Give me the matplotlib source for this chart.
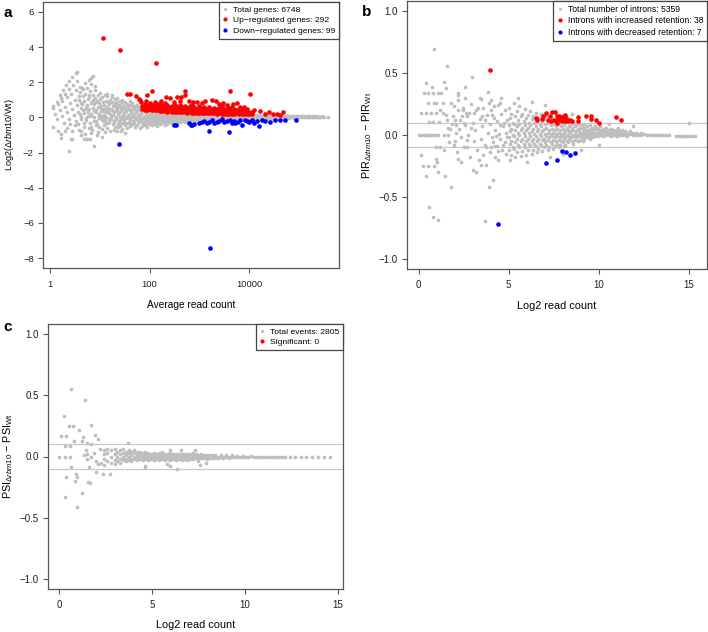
import matplotlib
matplotlib.use("Agg")
import matplotlib.pyplot as plt
from matplotlib.lines import Line2D
from matplotlib.ticker import NullLocator
import numpy as np

plt.rcParams['font.family'] = ['Liberation Sans', 'DejaVu Sans']
plt.rcParams['mathtext.fontset'] = 'custom'
plt.rcParams['mathtext.rm'] = 'Liberation Sans'
plt.rcParams['mathtext.it'] = 'Liberation Sans:italic'
plt.rcParams['mathtext.bf'] = 'Liberation Sans:bold'

GREY = '#bebebe'
RED = '#ff0000'
BLUE = '#0000ff'

# ---------------- panel a: log10(average read count), log2 fold change ----------------
a_grey_lowcount = [
    (0.20, 1.3), (0.26, 1.55), (0.32, 1.82), (0.39, 2.06), (0.45, 2.29), (0.52, 2.52), (0.55, 2.6),
    (0.14, 0.85), (0.22, 1.1), (0.30, 1.35), (0.38, 1.6), (0.46, 1.85), (0.54, 2.05),
    (0.07, 0.55), (0.16, 0.75), (0.25, 0.95), (0.34, 1.15), (0.43, 1.35), (0.52, 1.55), (0.61, 1.75),
    (0.70, 1.95), (0.78, 2.1), (0.83, 2.26), (0.86, 2.35),
    (0.10, 0.2), (0.20, 0.4), (0.30, 0.6), (0.40, 0.8), (0.50, 1.0), (0.58, 1.2),
    (0.15, -0.1), (0.25, 0.1), (0.35, 0.3), (0.45, 0.5), (0.55, 0.7),
    (0.28, -0.3), (0.38, -0.1), (0.48, 0.12), (0.56, 0.3), (0.07, 0.62),
    (0.07, -0.55), (0.16, -0.8), (0.22, -0.96), (0.22, -1.15), (0.39, -1.9), (0.42, -1.25),
    (0.45, -1.21), (0.35, -0.6), (0.45, -0.8), (0.50, -0.45), (0.59, -0.74), (0.62, -1.0),
    (0.69, -1.25), (0.72, -1.2), (0.75, -1.25), (0.80, -1.22), (0.82, -0.9), (0.89, -1.65),
    (0.30, -0.75), (0.40, -0.35), (0.53, -0.2), (1.29, -0.74), (1.42, -0.78), (1.50, -0.9),
    (1.05, -1.1), (0.95, -1.0), (0.82, 1.9), (0.66, 1.6), (0.75, 1.65), (0.90, 1.8),
    (1.00, 1.4), (1.10, 1.3), (1.15, 1.35), (1.25, 1.25), (1.35, 1.1), (1.45, 1.0), (1.60, 0.95),
]
a_grey_cloud = [
    (0.61, 1.45), (0.58, 1.0), (0.62, 0.55), (0.60, 0.2), (0.57, -0.35), (0.63, -0.8),
    (0.66, 1.2), (0.64, 0.75), (0.67, 0.4), (0.63, 0.05), (0.68, -0.55), (0.65, 1.65),
    (0.71, 1.35), (0.69, 0.95), (0.72, 0.6), (0.68, 0.25), (0.73, -0.15), (0.70, -0.95),
    (0.76, 1.05), (0.74, 0.7), (0.77, 0.3), (0.73, -0.05), (0.78, -0.6),
    (0.81, 1.5), (0.79, 1.15), (0.82, 0.8), (0.78, 0.45), (0.83, 0.1), (0.80, -0.3),
    (0.86, 1.25), (0.84, 0.9), (0.87, 0.55), (0.83, 0.2), (0.88, -0.2), (0.85, -0.7),
    (0.91, 1.1), (0.89, 0.75), (0.92, 0.4), (0.88, 0.05), (0.93, -0.45), (0.90, 1.55),
    (0.96, 1.3), (0.94, 0.95), (0.97, 0.6), (0.93, 0.3), (0.98, -0.05), (0.95, -0.4), (0.96, -0.85),
    (1.01, 1.05), (0.98, 0.8), (1.02, 0.5), (0.99, 0.2), (1.015, -0.1), (0.985, -0.55),
    (1.04, 1.15), (1.07, 0.9), (1.03, 0.65), (1.06, 0.35), (1.035, 0.1), (1.065, -0.2), (1.05, -0.65),
    (1.12, 0.95), (1.09, 0.7), (1.115, 0.45), (1.08, 0.15), (1.11, -0.15), (1.085, -0.45), (1.10, -0.85),
    (1.14, 1.2), (1.165, 0.85), (1.135, 0.6), (1.16, 0.3), (1.13, 0.05), (1.17, -0.3), (1.15, -0.6),
    (1.21, 1.0), (1.185, 0.75), (1.22, 0.5), (1.19, 0.25), (1.215, 0.0), (1.18, -0.25), (1.20, -0.75),
    (1.24, 0.9), (1.265, 0.65), (1.235, 0.4), (1.26, 0.15), (1.23, -0.1), (1.27, -0.4), (1.25, 1.15),
    (1.31, 1.05), (1.285, 0.8), (1.32, 0.55), (1.29, 0.3), (1.315, 0.05), (1.28, -0.2), (1.30, -0.55),
    (1.34, 0.85), (1.365, 0.6), (1.335, 0.4), (1.36, 0.2), (1.33, -0.05), (1.37, -0.35), (1.35, -0.8),
    (1.41, 0.95), (1.385, 0.7), (1.42, 0.45), (1.39, 0.25), (1.415, 0.05), (1.38, -0.2), (1.40, -0.5),
    (1.44, 0.8), (1.465, 0.55), (1.435, 0.35), (1.46, 0.15), (1.43, -0.1), (1.47, -0.3), (1.45, -0.65),
    (1.51, 0.9), (1.485, 0.65), (1.52, 0.45), (1.49, 0.25), (1.515, 0.05), (1.48, -0.15), (1.50, -0.45),
    (1.54, 0.75), (1.565, 0.55), (1.535, 0.35), (1.56, 0.15), (1.53, -0.05), (1.57, -0.3), (1.55, -0.6),
    (1.61, 0.7), (1.585, 0.5), (1.62, 0.3), (1.59, 0.12), (1.615, -0.08), (1.58, -0.25), (1.60, -0.5),
    (1.64, 0.8), (1.665, 0.55), (1.635, 0.38), (1.66, 0.2), (1.63, 0.0), (1.67, -0.2), (1.65, -0.4),
    (1.71, 0.65), (1.685, 0.45), (1.72, 0.28), (1.69, 0.1), (1.715, -0.1), (1.68, -0.3), (1.70, -0.55),
    (1.74, 0.7), (1.765, 0.5), (1.735, 0.33), (1.76, 0.15), (1.73, -0.03), (1.77, -0.22), (1.75, -0.45),
    (1.81, 0.6), (1.785, 0.42), (1.82, 0.25), (1.79, 0.08), (1.815, -0.1), (1.78, -0.28), (1.80, -0.6),
    (1.84, 0.55), (1.865, 0.38), (1.835, 0.22), (1.86, 0.05), (1.83, -0.12), (1.87, -0.3), (1.85, -0.5),
    (1.91, 0.5), (1.885, 0.35), (1.92, 0.2), (1.89, 0.05), (1.915, -0.08), (1.88, -0.25), (1.90, -0.42),
    (1.94, 0.45), (1.965, 0.3), (1.935, 0.15), (1.96, 0.0), (1.93, -0.15), (1.97, -0.3), (1.95, -0.55),
    (1.025, 0.65), (1.03, 0.35), (1.075, 0.5), (1.07, 0.0), (1.125, 0.3), (1.125, -0.3), (1.175, 0.45),
    (1.175, -0.1), (1.225, 0.85), (1.22, 0.12), (1.275, 0.28), (1.275, -0.25), (1.325, 0.68),
    (1.32, -0.08), (1.375, 0.3), (1.375, -0.55), (1.425, 0.6), (1.42, -0.3), (1.475, 0.05),
    (1.475, 0.45), (1.525, 0.35), (1.525, -0.3), (1.575, 0.05), (1.575, 0.62), (1.625, 0.4),
    (1.62, -0.35), (1.675, 0.1), (1.675, 0.65), (1.725, 0.4), (1.725, -0.42), (1.775, 0.05),
    (1.775, 0.6), (1.825, 0.32), (1.825, -0.2), (1.875, 0.45), (1.875, -0.05), (1.925, 0.28),
    (1.925, -0.35), (1.975, 0.35), (1.975, -0.2), (0.625, 0.8), (0.675, -0.3), (0.725, 0.45),
    (0.775, 1.3), (0.825, -0.55), (0.875, 0.35), (0.925, 0.9), (0.975, 0.1), (0.63, -0.1),
    (0.77, 0.1), (0.87, 1.0), (0.92, -0.2),
]
a_grey_band = [
    (2.00, [0.42, 0.28, 0.14, 0.02, -0.1, -0.22, -0.4]),
    (2.05, [0.4, 0.26, 0.12, 0.0, -0.12, -0.26, -0.45]),
    (2.10, [0.38, 0.25, 0.12, 0.0, -0.1, -0.22, -0.38]),
    (2.15, [0.36, 0.24, 0.12, 0.02, -0.08, -0.2, -0.35, -0.5]),
    (2.20, [0.35, 0.22, 0.1, 0.0, -0.1, -0.22, -0.4]),
    (2.25, [0.33, 0.21, 0.1, 0.0, -0.1, -0.2, -0.32]),
    (2.30, [0.32, 0.2, 0.1, 0.0, -0.08, -0.18, -0.3, -0.45]),
    (2.35, [0.3, 0.2, 0.1, 0.0, -0.1, -0.2, -0.35]),
    (2.40, [0.3, 0.19, 0.09, 0.0, -0.08, -0.17, -0.28]),
    (2.45, [0.28, 0.18, 0.08, -0.01, -0.1, -0.2, -0.33]),
    (2.50, [0.27, 0.17, 0.08, 0.0, -0.08, -0.16, -0.26]),
    (2.55, [0.26, 0.16, 0.07, -0.01, -0.09, -0.18, -0.3]),
    (2.60, [0.25, 0.16, 0.07, 0.0, -0.08, -0.16, -0.25]),
    (2.65, [0.25, 0.15, 0.06, -0.02, -0.1, -0.19]),
    (2.70, [0.24, 0.15, 0.07, 0.0, -0.07, -0.15, -0.24]),
    (2.75, [0.23, 0.14, 0.06, -0.01, -0.08, -0.16]),
    (2.80, [0.23, 0.14, 0.06, 0.0, -0.07, -0.15, -0.23]),
    (2.85, [0.22, 0.13, 0.05, -0.01, -0.08, -0.16]),
    (2.90, [0.22, 0.13, 0.06, 0.0, -0.07, -0.14, -0.22]),
    (2.95, [0.21, 0.12, 0.05, -0.01, -0.08, -0.15]),
    (3.00, [0.2, 0.12, 0.05, 0.0, -0.06, -0.13, -0.2]),
    (3.05, [0.19, 0.11, 0.04, -0.02, -0.08, -0.14]),
    (3.10, [0.19, 0.11, 0.05, 0.0, -0.06, -0.13, -0.19]),
    (3.15, [0.18, 0.1, 0.04, -0.02, -0.08, -0.14]),
    (3.20, [0.18, 0.1, 0.04, 0.0, -0.06, -0.12, -0.18]),
    (3.25, [0.17, 0.1, 0.04, -0.02, -0.08, -0.13]),
    (3.30, [0.17, 0.1, 0.04, 0.0, -0.05, -0.11, -0.17]),
    (3.35, [0.16, 0.09, 0.03, -0.02, -0.07, -0.12]),
    (3.40, [0.16, 0.09, 0.04, 0.0, -0.05, -0.1, -0.16]),
    (3.45, [0.15, 0.09, 0.03, -0.02, -0.07, -0.12]),
    (3.50, [0.15, 0.09, 0.04, 0.0, -0.05, -0.1, -0.15]),
    (3.55, [0.15, 0.08, 0.03, -0.02, -0.06, -0.11]),
    (3.60, [0.14, 0.08, 0.03, 0.0, -0.05, -0.1, -0.14]),
    (3.65, [0.14, 0.08, 0.03, -0.01, -0.06, -0.1]),
    (3.70, [0.14, 0.08, 0.04, 0.0, -0.04, -0.09, -0.13]),
    (3.75, [0.13, 0.07, 0.03, -0.01, -0.05, -0.1]),
    (3.80, [0.13, 0.08, 0.03, 0.0, -0.04, -0.09, -0.13]),
    (3.85, [0.13, 0.07, 0.03, -0.01, -0.05, -0.09]),
    (3.90, [0.12, 0.07, 0.03, 0.0, -0.04, -0.08, -0.12]),
    (3.95, [0.12, 0.07, 0.03, -0.01, -0.05, -0.09]),
    (4.00, [0.12, 0.07, 0.03, 0.0, -0.04, -0.08, -0.11]),
    (4.05, [0.12, 0.07, 0.03, -0.01, -0.05]),
    (4.10, [0.11, 0.06, 0.02, -0.02, -0.06, -0.1]),
    (4.15, [0.11, 0.06, 0.03, -0.01, -0.05]),
    (4.20, [0.11, 0.06, 0.02, -0.02, -0.06, -0.09]),
    (4.25, [0.1, 0.06, 0.02, -0.01, -0.05]),
    (4.30, [0.1, 0.06, 0.03, 0.0, -0.04, -0.08]),
    (4.35, [0.1, 0.06, 0.02, -0.02, -0.05]),
    (4.40, [0.1, 0.06, 0.03, 0.0, -0.03, -0.07]),
    (4.45, [0.1, 0.05, 0.02, -0.01, -0.05]),
    (4.50, [0.09, 0.05, 0.02, -0.02, -0.06]),
    (4.55, [0.1, 0.06, 0.03, 0.0, -0.03]),
    (4.60, [0.09, 0.05, 0.02, -0.01, -0.05]),
    (4.65, [0.1, 0.06, 0.03, 0.0, -0.03]),
    (4.70, [0.09, 0.05, 0.02, -0.02]),
    (4.75, [0.1, 0.06, 0.03, 0.0, -0.03]),
    (4.80, [0.09, 0.05, 0.02, -0.01]),
    (4.85, [0.1, 0.06, 0.03, 0.0]),
    (4.90, [0.08, 0.05, 0.02, -0.01]),
    (4.95, [0.09, 0.06, 0.03, 0.0]),
    (5.00, [0.08, 0.05, 0.02]),
    (5.05, [0.09, 0.06, 0.03, 0.0]),
    (5.10, [0.08, 0.05, 0.02]),
    (5.15, [0.07, 0.04, 0.02]),
    (5.20, [0.08, 0.05, 0.02]),
    (5.25, [0.06, 0.03]),
    (5.30, [0.07, 0.04, 0.02]),
    (5.35, [0.06, 0.03]),
    (5.40, [0.05, 0.02]),
    (5.45, [0.06, 0.03]),
    (5.50, [0.04]),
    (5.57, [0.05]),
]
a_red_scattered = [
    (1.07, 4.53), (1.41, 3.83), (2.13, 3.12),
    (1.55, 1.35), (1.60, 1.35), (1.73, 1.19), (1.78, 1.05), (1.80, 0.98), (1.83, 0.85),
    (1.93, 0.93), (1.94, 1.25), (2.05, 1.5), (2.10, 0.85), (2.18, 0.75), (2.22, 0.93),
    (2.30, 0.8), (2.33, 1.15), (2.41, 1.1), (2.48, 0.85), (2.55, 1.16), (2.60, 0.95),
    (2.70, 1.5), (2.62, 1.16), (2.70, 1.25), (2.78, 0.95), (2.88, 0.85), (2.95, 0.9),
    (3.05, 0.8), (3.12, 0.95), (3.25, 1.0), (3.33, 0.95), (3.40, 0.75), (3.48, 0.8),
    (3.55, 0.7), (3.62, 1.5), (3.68, 0.75), (3.75, 0.8), (3.82, 0.6), (3.90, 0.6),
    (4.02, 1.35), (4.10, 0.4), (4.22, 0.36), (4.32, 0.2), (4.39, 0.28), (4.47, 0.2),
    (4.55, 0.2), (4.62, 0.15), (4.67, 0.3),
]
a_red_core = [
    (1.85, [0.65, 0.5]), (1.90, [0.75, 0.55, 0.42]), (1.95, [0.7, 0.5, 0.4]),
    (2.00, [0.8, 0.6, 0.45]), (2.05, [0.7, 0.55, 0.42]), (2.10, [0.65, 0.5, 0.4]),
    (2.15, [0.75, 0.58, 0.44]), (2.20, [0.62, 0.48, 0.38]), (2.25, [0.7, 0.55, 0.42, 0.36]),
    (2.30, [0.6, 0.46, 0.36]), (2.35, [0.68, 0.52, 0.4, 0.33]), (2.40, [0.58, 0.45, 0.35]),
    (2.45, [0.65, 0.5, 0.4, 0.32]), (2.50, [0.72, 0.55, 0.42, 0.32]), (2.55, [0.6, 0.46, 0.36, 0.3]),
    (2.60, [0.7, 0.52, 0.4, 0.31]), (2.65, [0.58, 0.45, 0.34, 0.28]), (2.70, [0.65, 0.5, 0.38, 0.29]),
    (2.75, [0.55, 0.42, 0.32, 0.27]), (2.80, [0.62, 0.48, 0.36, 0.28]),
    (2.85, [0.7, 0.52, 0.4, 0.3, 0.26]), (2.90, [0.58, 0.44, 0.34, 0.27]),
    (2.95, [0.5, 0.4, 0.3, 0.25]), (3.00, [0.62, 0.46, 0.35, 0.27]), (3.05, [0.55, 0.42, 0.32, 0.25]),
    (3.10, [0.6, 0.45, 0.34, 0.26]), (3.15, [0.5, 0.38, 0.3, 0.24]), (3.20, [0.58, 0.44, 0.33, 0.25]),
    (3.25, [0.48, 0.36, 0.28, 0.23]), (3.30, [0.55, 0.42, 0.31, 0.24]), (3.35, [0.46, 0.35, 0.27, 0.22]),
    (3.40, [0.52, 0.4, 0.3, 0.23]), (3.45, [0.62, 0.44, 0.33, 0.25, 0.21]), (3.50, [0.5, 0.38, 0.28, 0.22]),
    (3.55, [0.45, 0.34, 0.26, 0.2]), (3.60, [0.55, 0.4, 0.3, 0.22]), (3.65, [0.6, 0.42, 0.32, 0.24, 0.2]),
    (3.70, [0.48, 0.35, 0.26, 0.2]), (3.75, [0.4, 0.3, 0.23]), (3.80, [0.5, 0.36, 0.27, 0.2]),
    (3.85, [0.42, 0.3, 0.22]), (3.90, [0.35, 0.26, 0.2]), (3.95, [0.45, 0.3, 0.22]),
    (4.00, [0.32, 0.24, 0.18]), (4.05, [0.28, 0.2]),
]
a_blue = [
    (1.39, -1.53), (3.22, -7.4),
    (2.49, -0.45), (2.53, -0.42), (2.79, -0.3), (2.82, -0.42), (2.85, -0.45), (2.90, -0.38),
    (3.00, -0.3), (3.05, -0.28), (3.09, -0.23), (3.15, -0.3), (3.19, -0.75), (3.20, -0.26),
    (3.25, -0.17), (3.30, -0.3), (3.35, -0.26), (3.40, -0.2), (3.45, -0.11), (3.50, -0.27),
    (3.55, -0.23), (3.59, -0.83), (3.62, -0.13), (3.65, -0.3), (3.70, -0.2), (3.72, -0.3),
    (3.78, -0.25), (3.82, -0.17), (3.85, -0.42), (3.92, -0.13), (3.95, -0.22), (4.00, -0.28),
    (4.05, -0.13), (4.10, -0.3), (4.15, -0.23), (4.19, -0.49), (4.25, -0.17), (4.32, -0.2),
    (4.42, -0.26), (4.52, -0.13), (4.62, -0.17), (4.72, -0.13), (4.94, -0.17),
]

# ---------------- panel b: log2 read count, delta PIR ----------------
b_grey_scattered = [
    (0.83, 0.69), (1.57, 0.556), (2.95, 0.465), (0.41, 0.42), (1.39, 0.43), (0.72, 0.39),
    (0.31, 0.335), (0.54, 0.335), (0.78, 0.335), (1.09, 0.335), (1.24, 0.335), (1.52, 0.376),
    (2.17, 0.34), (2.20, 0.32), (2.58, 0.385), (3.46, 0.288), (0.50, 0.255), (0.87, 0.255),
    (0.96, 0.255), (1.33, 0.255), (1.80, 0.26), (1.98, 0.23), (2.17, 0.2), (2.44, 0.205),
    (2.63, 0.175), (3.93, 0.255), (4.20, 0.233), (4.52, 0.255), (0.13, 0.175), (0.41, 0.175),
    (0.69, 0.175), (0.96, 0.175), (1.20, 0.2), (1.35, 0.175), (1.50, 0.16), (0.59, 0.107),
    (0.78, 0.107), (1.15, 0.107), (1.60, 0.12), (1.85, 0.09), (2.10, 0.08), (1.61, 0.053),
    (1.75, 0.045), (1.90, 0.15), (2.30, 0.12), (2.50, 0.1), (2.70, 0.15), (2.90, 0.06),
    (3.10, 0.18), (3.30, 0.22), (3.50, 0.15), (3.70, 0.12),
    (0.04, 0.0), (0.15, 0.0), (0.31, 0.0), (0.40, 0.0), (0.50, 0.0), (0.60, 0.0), (0.69, 0.0),
    (0.80, 0.0), (0.96, 0.0), (1.10, 0.0), (1.43, 0.0), (1.61, 0.0),
    (0.96, -0.094), (1.20, -0.1), (1.40, -0.12), (0.13, -0.16), (0.96, -0.19), (1.00, -0.217),
    (0.22, -0.25), (0.54, -0.25), (0.83, -0.25), (0.41, -0.33), (1.06, -0.3), (1.46, -0.33),
    (1.80, -0.42), (2.17, -0.19), (2.35, -0.22), (3.20, -0.3), (3.46, -0.245), (3.74, -0.24),
    (4.11, -0.36), (3.93, -0.42), (0.59, -0.58), (0.78, -0.664), (1.09, -0.685), (3.69, -0.69),
    (4.02, -0.1), (4.24, -0.09), (4.39, -0.13), (1.70, -0.06), (2.00, -0.05), (2.50, -0.1),
    (2.70, -0.04), (5.50, 0.3), (6.00, -0.22), (6.30, 0.27), (7.00, 0.24), (7.30, -0.18),
    (8.00, -0.15), (8.50, 0.17), (9.00, -0.12), (9.60, 0.12), (10.00, -0.08), (10.60, 0.086),
    (11.10, 0.06), (11.90, 0.075), (15.00, 0.094),
    (2.0, 0.12), (2.06, 0.02), (1.95, -0.08), (2.2, 0.28), (2.25, 0.05), (2.14, -0.14),
    (2.4, 0.15), (2.33, -0.02), (2.47, 0.22), (2.6, 0.08), (2.66, -0.1), (2.55, 0.3),
    (2.8, 0.18), (2.74, 0.0), (2.86, -0.18), (3.0, 0.1), (3.06, -0.05), (2.93, 0.25), (3.03, -0.28),
    (3.2, 0.2), (3.14, 0.04), (3.26, -0.12), (3.4, 0.13), (3.46, -0.03), (3.34, -0.2), (3.43, 0.3),
    (3.6, 0.22), (3.54, 0.07), (3.66, -0.08), (3.57, -0.16), (3.8, 0.16), (3.86, 0.02),
    (3.74, -0.1), (3.83, 0.35), (4.0, 0.2), (3.94, 0.09), (4.06, -0.02), (3.97, -0.14),
    (4.03, 0.28), (4.2, 0.14), (4.26, 0.04), (4.14, -0.06), (4.23, -0.18), (4.4, 0.24),
    (4.34, 0.11), (4.46, 0.01), (4.37, -0.09), (4.43, -0.2), (4.6, 0.17), (4.66, 0.07),
    (4.54, -0.03), (4.63, -0.12), (4.57, 0.3), (4.8, 0.2), (4.74, 0.1), (4.86, 0.02),
    (4.77, -0.06), (4.83, -0.15), (4.1, 0.16), (4.3, -0.01), (4.5, 0.08), (4.7, -0.08),
    (4.9, 0.12), (4.9, -0.02),
]
b_grey_band = [
    (5.0, [0.22, 0.08, -0.02, -0.12]), (5.075, [0.14, 0.03, -0.07, -0.2]),
    (5.15, [0.17, 0.05, -0.05, -0.16]), (5.225, [0.1, 0.0, -0.1]),
    (5.3, [0.26, 0.09, -0.01, -0.11]), (5.375, [0.15, 0.04, -0.06, -0.18]),
    (5.45, [0.19, 0.07, -0.03, -0.14]), (5.525, [0.12, 0.02, -0.08]),
    (5.6, [0.23, 0.09, 0.0, -0.1]), (5.675, [0.15, 0.04, -0.05, -0.17]),
    (5.75, [0.17, 0.06, -0.03, -0.13]), (5.825, [0.11, 0.02, -0.07]),
    (5.9, [0.21, 0.08, -0.01, -0.1]), (5.975, [0.14, 0.04, -0.05, -0.16]),
    (6.05, [0.16, 0.06, -0.03, -0.12]), (6.125, [0.1, 0.02, -0.07]),
    (6.2, [0.19, 0.08, -0.01, -0.09]), (6.275, [0.13, 0.03, -0.05, -0.15]),
    (6.35, [0.15, 0.05, -0.03, -0.12]), (6.425, [0.1, 0.01, -0.07]),
    (6.5, [0.18, 0.07, -0.01, -0.09]), (6.575, [0.12, 0.03, -0.05, -0.14]),
    (6.65, [0.14, 0.05, -0.03, -0.11]), (6.725, [0.09, 0.01, -0.07]),
    (6.8, [0.17, 0.07, -0.01, -0.08]), (6.875, [0.11, 0.03, -0.04, -0.13]),
    (6.95, [0.13, 0.05, -0.03, -0.1]), (7.025, [0.09, 0.01, -0.06]),
    (7.1, [0.15, 0.06, -0.01, -0.08]), (7.175, [0.1, 0.02, -0.04, -0.12]),
    (7.25, [0.12, 0.04, -0.02, -0.1]), (7.325, [0.08, 0.01, -0.06]),
    (7.4, [0.14, 0.05, -0.01, -0.07]), (7.475, [0.09, 0.02, -0.04, -0.11]),
    (7.55, [0.11, 0.04, -0.02, -0.09]), (7.625, [0.07, 0.01, -0.05]),
    (7.7, [0.13, 0.05, -0.01, -0.07]), (7.775, [0.09, 0.02, -0.04, -0.1]),
    (7.85, [0.1, 0.04, -0.02, -0.08]), (7.925, [0.07, 0.01, -0.05]),
    (8.0, [0.12, 0.05, -0.01, -0.06]), (8.075, [0.08, 0.02, -0.03, -0.09]),
    (8.15, [0.1, 0.03, -0.02, -0.08]), (8.225, [0.06, 0.0, -0.05]),
    (8.3, [0.11, 0.04, -0.01, -0.06]), (8.375, [0.07, 0.02, -0.03]),
    (8.45, [0.09, 0.03, -0.02]), (8.525, [0.06, 0.0, -0.05]),
    (8.6, [0.1, 0.04, -0.01, -0.07]), (8.675, [0.07, 0.01, -0.04]),
    (8.75, [0.08, 0.03, -0.02]), (8.825, [0.05, 0.0, -0.05]),
    (8.9, [0.09, 0.03, -0.01]), (8.975, [0.06, 0.01, -0.04]),
    (9.05, [0.08, 0.02, -0.02]), (9.125, [0.05, 0.0, -0.05]),
    (9.2, [0.09, 0.06, 0.03, 0.01, -0.01, -0.03]),
    (9.35, [0.07, 0.04, 0.02, 0.0, -0.02]),
    (9.5, [0.08, 0.05, 0.03, 0.01, -0.01, -0.03]),
    (9.65, [0.06, 0.04, 0.02, 0.0, -0.02]),
    (9.8, [0.07, 0.05, 0.02, 0.0, -0.01]),
    (9.95, [0.06, 0.03, 0.01, -0.01]),
    (10.1, [0.07, 0.04, 0.02, 0.0]),
    (10.25, [0.05, 0.03, 0.01, -0.01]),
    (10.4, [0.06, 0.03, 0.01, 0.0]),
    (10.55, [0.04, 0.02, 0.0]),
    (10.7, [0.05, 0.03, 0.01, -0.01]),
    (10.85, [0.04, 0.02, 0.0]),
    (11.0, [0.04, 0.02, 0.01, -0.01]),
    (11.15, [0.03, 0.01, 0.0]),
    (11.3, [0.04, 0.02, 0.0]),
    (11.45, [0.03, 0.01, 0.0]),
    (11.6, [0.02, 0.01, -0.01]),
    (11.75, [0.03, 0.01]),
    (11.9, [0.02, 0.0]),
    (12.05, [0.02, 0.0]),
    (12.2, [0.01, 0.0]),
    (12.35, [0.02, 0.0]),
    (12.5, [0.01]),
    (12.7, [0.0]), (12.85, [0.0]), (13.0, [0.0]), (13.1, [0.0]), (13.2, [0.0]),
    (13.35, [0.0]), (13.5, [0.0]), (13.6, [0.0]), (13.75, [0.0]), (13.9, [0.0]),
    (14.3, [-0.005]), (14.4, [-0.005]), (14.5, [-0.005]), (14.6, [-0.005]),
    (14.75, [-0.005]), (14.9, [-0.005]), (15.1, [-0.005]), (15.2, [-0.005]), (15.35, [-0.005]),
]
b_red = [
    (3.94, 0.52), (6.54, 0.14), (6.60, 0.12), (6.87, 0.13), (6.90, 0.155), (7.09, 0.18),
    (7.20, 0.12), (7.31, 0.15), (7.43, 0.185), (7.56, 0.185), (7.50, 0.12), (7.62, 0.11),
    (7.66, 0.15), (7.72, 0.13), (7.78, 0.155), (7.83, 0.12), (7.90, 0.145), (7.95, 0.11),
    (8.02, 0.13), (8.08, 0.15), (8.12, 0.115), (8.20, 0.14), (8.26, 0.12), (8.30, 0.11),
    (8.42, 0.12), (8.54, 0.115), (8.87, 0.145), (8.87, 0.113), (9.31, 0.155), (9.60, 0.15),
    (9.55, 0.125), (9.83, 0.124), (10.00, 0.1), (10.98, 0.147), (11.26, 0.12), (7.36, 0.11),
    (8.15, 0.165), (7.70, 0.1),
]
b_blue = [(7.96, -0.13), (8.20, -0.14), (8.42, -0.165), (8.70, -0.145),
          (7.69, -0.2), (7.09, -0.225), (4.39, -0.72)]

# ---------------- panel c: log2 read count, delta PSI ----------------
c_grey_scattered = [
    (0.63, 0.554), (1.38, 0.464), (0.25, 0.334), (0.52, 0.247), (0.75, 0.247), (1.06, 0.22),
    (1.74, 0.255), (0.13, 0.165), (0.40, 0.165), (1.29, 0.16), (1.26, 0.125), (1.92, 0.179),
    (2.10, 0.139), (1.53, 0.11), (1.71, 0.098), (0.81, 0.13), (0.34, 0.084), (0.58, 0.084),
    (0.0, 0.0), (0.30, 0.0), (0.59, 0.0), (1.60, -0.084), (1.97, -0.128), (2.37, -0.139),
    (2.73, -0.139), (0.66, -0.084), (0.39, -0.166), (0.93, -0.14), (0.99, -0.17), (0.88, -0.2),
    (1.56, -0.21), (1.65, -0.22), (1.26, -0.295), (0.34, -0.33), (0.99, -0.41), (1.45, 0.05),
    (1.50, 0.02), (1.52, -0.02), (1.70, 0.0), (1.90, 0.03), (2.00, -0.04), (2.20, 0.06),
    (2.25, -0.05), (2.40, 0.02), (2.10, -0.06), (1.35, 0.01),
    (3.74, 0.11), (4.63, -0.078), (5.80, -0.065), (6.00, -0.078), (6.38, -0.1), (7.60, -0.07),
    (7.90, -0.05), (5.98, 0.052), (6.56, 0.052), (7.33, 0.052), (4.62, -0.084),
]
c_grey_band = [
    (2.4, [0.05, -0.02, -0.07]), (2.6, [0.03, -0.04, 0.06]), (2.8, [0.05, 0.0, -0.05]),
    (3.0, [0.06, 0.02, -0.03, -0.06]), (3.15, [0.04, 0.0, -0.04]), (3.3, [0.05, 0.02, -0.02, -0.05]),
    (3.45, [0.03, 0.0, -0.03, 0.06]), (3.6, [0.04, 0.01, -0.02, -0.04]), (3.75, [0.03, 0.0, -0.03, 0.05]),
    (3.9, [0.04, 0.01, -0.02, -0.04]), (4.05, [0.03, 0.0, -0.02, 0.05]), (4.2, [0.04, 0.01, -0.01, -0.03]),
    (4.35, [0.02, 0.0, -0.02, 0.04]), (4.5, [0.03, 0.01, -0.01, -0.03]), (4.65, [0.02, 0.0, -0.02, 0.04]),
    (4.8, [0.03, 0.01, -0.01, -0.03]), (4.95, [0.02, 0.0, -0.02]), (5.1, [0.03, 0.01, -0.01, -0.03]),
    (5.25, [0.02, 0.0, -0.02]), (5.4, [0.03, 0.01, -0.01, -0.03]), (5.55, [0.02, 0.0, -0.02, 0.04]),
    (5.7, [0.02, 0.01, -0.01, -0.03]), (5.85, [0.02, 0.0, -0.02]), (6.0, [0.03, 0.01, -0.01, -0.03]),
    (6.15, [0.02, 0.0, -0.02]), (6.3, [0.02, 0.01, -0.01, -0.03]), (6.45, [0.02, 0.0, -0.02]),
    (6.6, [0.02, 0.0, -0.01, -0.03]), (6.75, [0.02, 0.0, -0.02]), (6.9, [0.02, 0.01, -0.01, -0.03]),
    (7.05, [0.02, 0.0, -0.02]), (7.2, [0.01, 0.0, -0.02, 0.03]), (7.35, [0.02, 0.0, -0.01]),
    (7.5, [0.01, 0.0, -0.02, -0.04]), (7.65, [0.02, 0.0, -0.01]), (7.8, [0.01, 0.0, -0.01]),
    (7.95, [0.01, 0.0, -0.02]), (8.1, [0.01, 0.0, -0.01]), (8.25, [0.01, -0.01]),
    (8.4, [0.01, 0.0, -0.01]), (8.55, [0.0, -0.01]), (8.7, [0.01, 0.0]), (8.85, [0.0, -0.01]),
    (9.0, [0.01, 0.0]), (9.15, [0.0, -0.01]), (9.3, [0.01, 0.0]), (9.45, [0.0]),
    (9.6, [0.005, -0.005]), (9.75, [0.0]), (9.9, [0.005, -0.005]), (10.05, [0.0]), (10.2, [0.0]),
    (10.35, [0.005]), (10.5, [0.0]), (10.65, [0.0]), (10.8, [0.0]), (10.95, [0.0]), (11.1, [0.0]),
    (11.25, [0.0]), (11.4, [0.0]), (11.55, [0.0]), (11.7, [0.0]), (11.85, [0.0]), (12.0, [0.0]),
    (12.15, [0.0]), (12.45, [0.0]), (12.72, [0.0]), (13.03, [0.0]), (13.32, [0.0]),
    (13.62, [0.0]), (13.94, [0.0]), (14.25, [0.0]), (14.61, [0.0]),
]

legend_a = ['Total genes: 6748', 'Up\u2212regulated genes: 292', 'Down\u2212regulated genes: 99']
legend_b = ['Total number of introns: 5359', 'Introns with increased retention: 38',
            'Introns with decreased retention: 7']
legend_c = ['Total events: 2805', 'Significant: 0']


def pairs(points):
    arr = np.array(points, dtype=float)
    return arr[:, 0], arr[:, 1]


def columns(cols):
    xs, ys = [], []
    for x, vals in cols:
        for v in vals:
            xs.append(x)
            ys.append(v)
    return np.array(xs), np.array(ys)


def style_axes(ax, labelsize, xpad):
    for s in ax.spines.values():
        s.set_color('#555555')
        s.set_linewidth(0.9)
    ax.tick_params(direction='out', length=3.6, width=0.8, color='#555555',
                   labelsize=labelsize, labelcolor='#222222', pad=3)
    ax.tick_params(axis='x', pad=xpad)


def add_legend(ax, labels, colors, fontsize):
    handles = []
    for i, col in enumerate(colors):
        ms = 2.2 if i == 0 else 3.0
        handles.append(Line2D([], [], ls='none', marker='o', ms=ms, color=col, mec='none'))
    leg = ax.legend(handles, labels, loc='upper right', borderaxespad=0, fontsize=fontsize,
                    frameon=True, fancybox=False, edgecolor='#444444', framealpha=1,
                    handlelength=0.6, handletextpad=0.6, borderpad=0.45, labelspacing=0.3)
    leg.get_frame().set_linewidth(0.9)


GREY_S = 7.0
COL_S = 11.0

fig = plt.figure(figsize=(7.08, 6.32), dpi=100)

# ---- panel a ----
ax = fig.add_axes([43 / 708, 1 - 268 / 632, 296 / 708, 266 / 632])
lx1, y1 = pairs(a_grey_lowcount + a_grey_cloud)
lx2, y2 = columns(a_grey_band)
ax.scatter(10 ** np.concatenate([lx1, lx2]), np.concatenate([y1, y2]), s=GREY_S, c=GREY, linewidths=0)
lx3, y3 = pairs(a_red_scattered)
lx4, y4 = columns(a_red_core)
ax.scatter(10 ** np.concatenate([lx3, lx4]), np.concatenate([y3, y4]), s=COL_S, c=RED, linewidths=0)
lx5, y5 = pairs(a_blue)
ax.scatter(10 ** lx5, y5, s=COL_S, c=BLUE, linewidths=0)
ax.set_xscale('log')
ax.set_xlim(10 ** -0.14, 10 ** 5.8)
ax.set_ylim(-8.56, 6.56)
ax.set_xticks([1, 100, 10000])
ax.set_xticklabels(['1', '100', '10000'])
ax.xaxis.set_minor_locator(NullLocator())
ax.set_yticks([-8, -6, -4, -2, 0, 2, 4, 6])
style_axes(ax, 6.8, 5)
ax.set_xlabel('Average read count', fontsize=7.3)
ax.xaxis.set_label_coords(0.5, -37 / 266)
ax.xaxis.label.set_va('center')
ax.set_ylabel(r'Log2($\Delta\mathit{rbm10}$/Wt)', fontsize=6.5)
ax.yaxis.set_label_coords(-33 / 296, 0.5)
ax.yaxis.label.set_va('center')
add_legend(ax, legend_a, [GREY, RED, BLUE], 6.1)

# ---- panel b ----
ax = fig.add_axes([407 / 708, 1 - 269 / 632, 300 / 708, 268 / 632])
ax.axhline(0.1, color='#c8c8c8', lw=0.9, zorder=0)
ax.axhline(-0.1, color='#c8c8c8', lw=0.9, zorder=0)
x1, y1 = pairs(b_grey_scattered)
x2, y2 = columns(b_grey_band)
ax.scatter(np.concatenate([x1, x2]), np.concatenate([y1, y2]), s=GREY_S, c=GREY, linewidths=0)
x3, y3 = pairs(b_red)
ax.scatter(x3, y3, s=COL_S, c=RED, linewidths=0)
x4, y4 = pairs(b_blue)
ax.scatter(x4, y4, s=COL_S, c=BLUE, linewidths=0)
ax.set_xlim(-0.65, 16.02)
ax.set_ylim(-1.08, 1.08)
ax.set_xticks([0, 5, 10, 15])
ax.set_yticks([-1.0, -0.5, 0.0, 0.5, 1.0])
ax.set_yticklabels(['\u22121.0', '\u22120.5', '0.0', '0.5', '1.0'])
style_axes(ax, 7, 4.5)
ax.set_xlabel('Log2 read count', fontsize=7.8)
ax.xaxis.set_label_coords(0.5, -37 / 268)
ax.xaxis.label.set_va('center')
ax.set_ylabel('PIR$_{\\Delta\\mathit{rbm10}}$ \u2212 PIR$_{\\mathrm{Wt}}$', fontsize=7.8)
ax.yaxis.set_label_coords(-40 / 300, 0.5)
ax.yaxis.label.set_va('center')
add_legend(ax, legend_b, [GREY, RED, BLUE], 6.2)

# ---- panel c ----
ax = fig.add_axes([48 / 708, 1 - 589 / 632, 295 / 708, 265 / 632])
ax.axhline(0.1, color='#c8c8c8', lw=0.9, zorder=0)
ax.axhline(-0.1, color='#c8c8c8', lw=0.9, zorder=0)
x1, y1 = pairs(c_grey_scattered)
x2, y2 = columns(c_grey_band)
ax.scatter(np.concatenate([x1, x2]), np.concatenate([y1, y2]), s=GREY_S, c=GREY, linewidths=0)
ax.set_xlim(-0.59, 15.29)
ax.set_ylim(-1.08, 1.08)
ax.set_xticks([0, 5, 10, 15])
ax.set_yticks([-1.0, -0.5, 0.0, 0.5, 1.0])
ax.set_yticklabels(['\u22121.0', '\u22120.5', '0.0', '0.5', '1.0'])
style_axes(ax, 7, 4.5)
ax.set_xlabel('Log2 read count', fontsize=7.8)
ax.xaxis.set_label_coords(0.5, -36 / 265)
ax.xaxis.label.set_va('center')
ax.set_ylabel('PSI$_{\\Delta\\mathit{rbm10}}$ \u2212 PSI$_{\\mathrm{Wt}}$', fontsize=7.8)
ax.yaxis.set_label_coords(-40 / 295, 0.5)
ax.yaxis.label.set_va('center')
add_legend(ax, legend_c, [GREY, RED], 6.1)

fig.text(8 / 708, 1 - 13 / 632, 'a', fontsize=11, fontweight='bold', ha='center', va='center')
fig.text(367 / 708, 1 - 12 / 632, 'b', fontsize=11, fontweight='bold', ha='center', va='center')
fig.text(8 / 708, 1 - 327 / 632, 'c', fontsize=11, fontweight='bold', ha='center', va='center')

fig.savefig('out.png', dpi=100)
